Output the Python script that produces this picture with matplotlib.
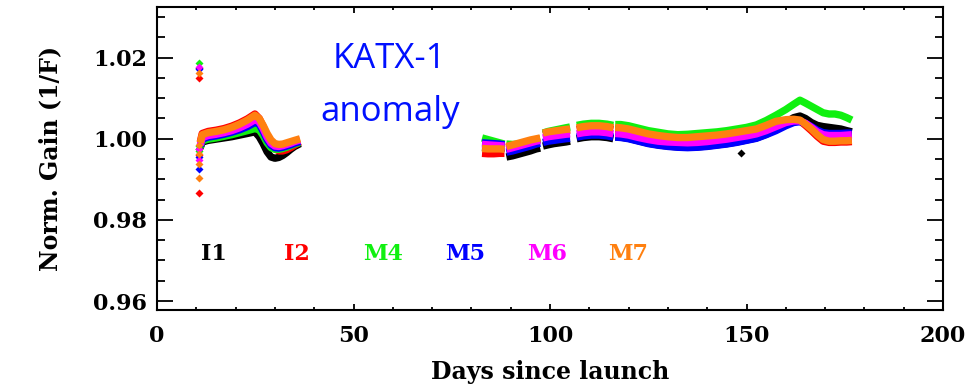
import numpy as np
import matplotlib.pyplot as plt
from matplotlib.ticker import MultipleLocator, FormatStrFormatter

plt.rcParams['font.family'] = 'DejaVu Serif'
plt.rcParams['font.weight'] = 'bold'

channels = ["I1", "I2", "M4", "M5", "M6", "M7"]
colors = ["black", "#ff0000", "#10f010", "#0000ff", "#ff00ff", "#ff8010"]
label_days = [14.5, 35.5, 57.5, 78.5, 99.3, 120.0]
label_gain = 0.9717

nan = np.nan

# days since launch, nan marks the gaps between calibration runs
days = [11.0, 11.5, 13, 15, 17, 19, 21, 23, 24.9, 26, 27, 28, 29, 30, 31, 32, 33, 34, 35, 36.4,
        nan,
        82.7, 84.2, 85.7, 87.2, 88.4,
        nan,
        88.9, 90.5, 92, 93.5, 95, 96.5, 97.5,
        nan,
        98.2, 99.5, 101, 102.5, 104, 105.1,
        nan,
        106.8, 108.5, 110.5, 112.5, 114.5, 116.1,
        nan,
        116.6, 118, 120, 122.5, 125, 127.5, 130, 132.5, 135, 137.5, 140, 142.5, 145, 147.5,
        150, 152.5, 155, 157.5, 160, 162, 163.6, 165, 166.5, 168, 169.5, 171, 172.5, 174,
        175.5, 176.8]

gain_i1 = [0.9978, 0.9992, 0.9996, 0.9999, 1.0002, 1.0005, 1.0009, 1.0013, 1.0017, 1.0005,
           0.9988, 0.9968, 0.9955, 0.9952, 0.9954, 0.9959, 0.9966, 0.9974, 0.9981, 0.9988,
           nan,
           0.9979, 0.9978, 0.9978, 0.9977, 0.9977,
           nan,
           0.9955, 0.9958, 0.9962, 0.9966, 0.9970, 0.9975, 0.9977,
           nan,
           0.9982, 0.9985, 0.9988, 0.9990, 0.9992, 0.9994,
           nan,
           1.0000, 1.0003, 1.0005, 1.0005, 1.0003, 1.0000,
           nan,
           1.0005, 1.0004, 1.0001, 0.9995, 0.9989, 0.9985, 0.9982, 0.9980, 0.9979, 0.9980,
           0.9982, 0.9985, 0.9988, 0.9992, 0.9997, 1.0002, 1.0011, 1.0024, 1.0040, 1.0052,
           1.0056, 1.0050, 1.0040, 1.0033, 1.0030, 1.0028, 1.0026, 1.0024, 1.0020, 1.0017]

gain_i2 = [0.9992, 1.0013, 1.0018, 1.0021, 1.0025, 1.0031, 1.0039, 1.0049, 1.0061, 1.0050,
           1.0030, 1.0008, 0.9985, 0.9975, 0.9970, 0.9970, 0.9973, 0.9978, 0.9984, 0.9992,
           nan,
           0.9964, 0.9963, 0.9963, 0.9964, 0.9964,
           nan,
           0.9978, 0.9982, 0.9986, 0.9990, 0.9994, 0.9997, 0.9999,
           nan,
           1.0011, 1.0014, 1.0016, 1.0018, 1.0020, 1.0021,
           nan,
           1.0023, 1.0026, 1.0028, 1.0028, 1.0026, 1.0023,
           nan,
           1.0024, 1.0023, 1.0020, 1.0014, 1.0008, 1.0004, 1.0001, 0.9999, 0.9999, 1.0001,
           1.0003, 1.0005, 1.0008, 1.0012, 1.0016, 1.0020, 1.0029, 1.0039, 1.0044, 1.0046,
           1.0044, 1.0033, 1.0020, 1.0006, 0.9994, 0.9991, 0.9991, 0.9992, 0.9992, 0.9993]

gain_m4 = [0.9980, 0.9995, 0.9999, 1.0002, 1.0006, 1.0010, 1.0015, 1.0020, 1.0025, 1.0022,
           1.0008, 0.9990, 0.9978, 0.9974, 0.9974, 0.9976, 0.9979, 0.9983, 0.9987, 0.9991,
           nan,
           1.0002, 0.9998, 0.9994, 0.9990, 0.9987,
           nan,
           0.9987, 0.9986, 0.9987, 0.9990, 0.9994, 0.9997, 0.9999,
           nan,
           1.0014, 1.0018, 1.0021, 1.0024, 1.0027, 1.0029,
           nan,
           1.0033, 1.0036, 1.0038, 1.0038, 1.0036, 1.0033,
           nan,
           1.0035, 1.0035, 1.0032, 1.0026, 1.0020, 1.0016, 1.0012, 1.0010, 1.0011, 1.0013,
           1.0015, 1.0017, 1.0020, 1.0024, 1.0028, 1.0034, 1.0045, 1.0058, 1.0072, 1.0085,
           1.0095, 1.0088, 1.0080, 1.0072, 1.0064, 1.0061, 1.0061, 1.0058, 1.0052, 1.0046]

gain_m5 = [0.9982, 0.9999, 1.0004, 1.0007, 1.0011, 1.0016, 1.0022, 1.0030, 1.0040, 1.0036,
           1.0018, 0.9998, 0.9984, 0.9978, 0.9977, 0.9979, 0.9982, 0.9985, 0.9989, 0.9993,
           nan,
           0.9990, 0.9989, 0.9988, 0.9987, 0.9985,
           nan,
           0.9967, 0.9970, 0.9974, 0.9978, 0.9982, 0.9987, 0.9989,
           nan,
           0.9991, 0.9994, 0.9996, 0.9998, 1.0000, 1.0001,
           nan,
           1.0004, 1.0007, 1.0009, 1.0009, 1.0007, 1.0004,
           nan,
           1.0004, 1.0003, 1.0000, 0.9994, 0.9988, 0.9984, 0.9981, 0.9979, 0.9978, 0.9979,
           0.9981, 0.9984, 0.9987, 0.9991, 0.9996, 1.0001, 1.0010, 1.0020, 1.0032, 1.0040,
           1.0042, 1.0038, 1.0030, 1.0021, 1.0015, 1.0013, 1.0013, 1.0013, 1.0014, 1.0014]

gain_m6 = [0.9985, 1.0003, 1.0008, 1.0011, 1.0015, 1.0020, 1.0027, 1.0036, 1.0047, 1.0042,
           1.0025, 1.0004, 0.9989, 0.9982, 0.9981, 0.9983, 0.9986, 0.9989, 0.9993, 0.9997,
           nan,
           0.9986, 0.9985, 0.9984, 0.9983, 0.9982,
           nan,
           0.9974, 0.9978, 0.9982, 0.9986, 0.9990, 0.9994, 0.9996,
           nan,
           1.0002, 1.0005, 1.0007, 1.0009, 1.0011, 1.0012,
           nan,
           1.0012, 1.0015, 1.0017, 1.0017, 1.0015, 1.0012,
           nan,
           1.0013, 1.0012, 1.0009, 1.0003, 0.9998, 0.9994, 0.9992, 0.9991, 0.9990, 0.9991,
           0.9993, 0.9996, 0.9999, 1.0003, 1.0007, 1.0012, 1.0020, 1.0030, 1.0040, 1.0044,
           1.0044, 1.0038, 1.0028, 1.0017, 1.0010, 1.0008, 1.0008, 1.0008, 1.0009, 1.0010]

gain_m7 = [0.9990, 1.0010, 1.0015, 1.0018, 1.0022, 1.0028, 1.0036, 1.0046, 1.0058, 1.0050,
           1.0033, 1.0013, 0.9997, 0.9988, 0.9986, 0.9987, 0.9990, 0.9993, 0.9996, 1.0000,
           nan,
           0.9976, 0.9975, 0.9975, 0.9975, 0.9974,
           nan,
           0.9981, 0.9985, 0.9989, 0.9993, 0.9997, 1.0000, 1.0002,
           nan,
           1.0014, 1.0017, 1.0019, 1.0021, 1.0023, 1.0024,
           nan,
           1.0027, 1.0030, 1.0032, 1.0032, 1.0030, 1.0027,
           nan,
           1.0028, 1.0027, 1.0024, 1.0018, 1.0012, 1.0008, 1.0005, 1.0003, 1.0003, 1.0005,
           1.0007, 1.0009, 1.0012, 1.0016, 1.0020, 1.0024, 1.0033, 1.0043, 1.0047, 1.0048,
           1.0046, 1.0036, 1.0024, 1.0010, 0.9998, 0.9994, 0.9994, 0.9995, 0.9995, 0.9996]

# first orbits right after launch, all on the same day
first_day = 10.7
first_i1 = [1.0175, 0.9975]
first_i2 = [1.0149, 0.9867, 0.9960]
first_m4 = [1.0187, 0.9983, 0.9970]
first_m5 = [1.0172, 0.9925, 0.9955]
first_m6 = [1.0177, 0.9947, 0.9975]
first_m7 = [1.0163, 0.9904, 0.9938, 0.9963, 0.9985]

# single stray I1 point
stray_day = 148.6
stray_i1 = 0.9966

gains = [gain_i1, gain_i2, gain_m4, gain_m5, gain_m6, gain_m7]
firsts = [first_i1, first_i2, first_m4, first_m5, first_m6, first_m7]

fig = plt.figure(figsize=(9.76, 3.89), dpi=100)
ax = fig.add_axes([0.1609, 0.2031, 0.8053, 0.7782])

for name, col, g, f in zip(channels, colors, gains, firsts):
    ax.plot(days, g, color=col, lw=5.3, solid_capstyle='butt', solid_joinstyle='round')
    ax.plot([first_day] * len(f), f, 'D', color=col, ms=4.5, mec='none')
    if name == "I1":
        ax.plot([stray_day], [stray_i1], 'D', color=col, ms=4.5, mec='none')

for name, col, d in zip(channels, colors, label_days):
    ax.text(d, label_gain, name, color=col, ha='center', va='center', fontsize=16, fontweight='bold')

ax.text(59.2, 1.01748, "KATX-1", color='#0010ff', fontsize=25, family='Open Sans',
        fontweight='normal', ha='center', va='baseline')
ax.text(59.2, 1.00445, "anomaly", color='#0010ff', fontsize=25, family='Open Sans',
        fontweight='normal', ha='center', va='baseline')

ax.set_xlim(0, 200)
ax.set_ylim(0.9578, 1.0324)
ax.xaxis.set_major_locator(MultipleLocator(50))
ax.xaxis.set_minor_locator(MultipleLocator(10))
ax.yaxis.set_major_locator(MultipleLocator(0.02))
ax.yaxis.set_minor_locator(MultipleLocator(0.005))
ax.yaxis.set_major_formatter(FormatStrFormatter('%.2f'))

ax.tick_params(which='both', direction='in', top=True, right=True, width=1.3, labelsize=16)
ax.tick_params(axis='y', which='major', length=11.5, pad=7)
ax.tick_params(axis='y', which='minor', length=5.8)
ax.tick_params(axis='x', which='major', length=4.5, pad=11)
ax.tick_params(axis='x', which='minor', length=2.2)
for s in ax.spines.values():
    s.set_linewidth(1.5)

ax.set_xlabel("Days since launch", fontsize=17, fontweight='bold')
ax.set_ylabel("Norm. Gain (1/F)", fontsize=17, fontweight='bold')
ax.xaxis.set_label_coords(0.5, -0.165)
ax.yaxis.set_label_coords(-0.121, 0.5)

fig.savefig("out.png", dpi=100)
